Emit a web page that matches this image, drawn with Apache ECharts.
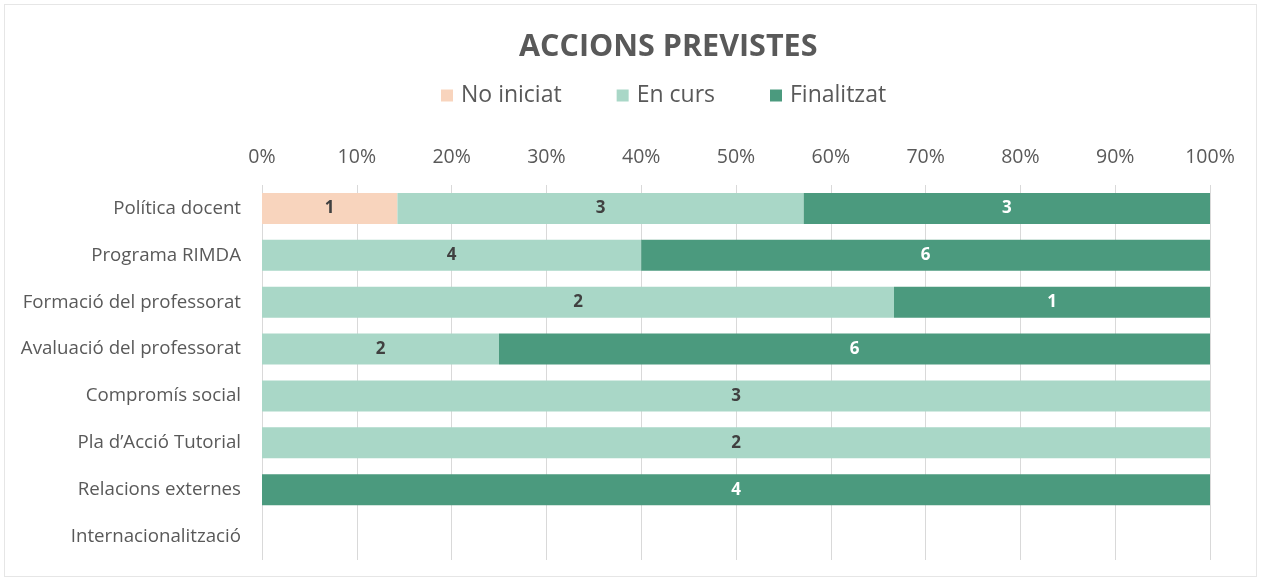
<!DOCTYPE html>
<html><head><meta charset="utf-8">
<script src="https://cdn.jsdelivr.net/npm/echarts@6/dist/echarts.min.js"></script>
<style>html,body{margin:0;padding:0;background:#fff}#c{width:1263px;height:583px}</style>
</head><body><div id="c"></div>
<script>
const categories = ["Política docent","Programa RIMDA","Formació del professorat","Avaluació del professorat","Compromís social","Pla d’Acció Tutorial","Relacions externes","Internacionalització"];
const noIniciat = [1,0,0,0,0,0,0,0];
const enCurs = [3,4,2,2,3,2,0,0];
const finalitzat = [3,6,1,6,0,0,4,0];
const tickLabels = ["0%","10%","20%","30%","40%","50%","60%","70%","80%","90%","100%"];

const totals = categories.map((_, i) => noIniciat[i] + enCurs[i] + finalitzat[i]);
const pct = arr => arr.map((v, i) => totals[i] ? v / totals[i] * 100 : 0);
const font = '"Open Sans", Lato, sans-serif';

function mk(name, arr, color, labelColor) {
  return {
    name, type: 'bar', stack: 'all', data: pct(arr),
    barCategoryGap: '34%',
    itemStyle: { color },
    label: {
      show: true, position: 'inside', color: labelColor, fontWeight: 'bold',
      fontFamily: font, fontSize: 17,
      formatter: p => arr[p.dataIndex] ? String(arr[p.dataIndex]) : ''
    }
  };
}

const chart = echarts.init(document.getElementById('c'));
chart.setOption({
  animation: false,
  backgroundColor: '#fff',
  title: {
    text: 'ACCIONS PREVISTES', left: 514, top: 27,
    textStyle: { fontFamily: font, fontSize: 30.5, fontWeight: 'bold', color: '#595959' }
  },
  legend: {
    top: 79, left: 436, itemWidth: 12, itemHeight: 12, itemGap: 55,
    icon: 'rect',
    textStyle: { fontFamily: font, fontSize: 23, color: '#595959', padding: [0, 0, 0, 3] },
    data: ['No iniciat', 'En curs', 'Finalitzat']
  },
  grid: { left: 262, right: 53, top: 185, bottom: 23, containLabel: false },
  xAxis: {
    type: 'value', position: 'top', min: 0, max: 100, interval: 10,
    axisLine: { show: false }, axisTick: { show: false },
    splitLine: { lineStyle: { color: '#d9d9d9' } },
    axisLabel: {
      fontFamily: font, fontSize: 19.5, color: '#595959', margin: 18,
      formatter: (v) => tickLabels[Math.round(v / 10)]
    }
  },
  yAxis: {
    type: 'category', inverse: true, data: categories,
    axisLine: { show: false }, axisTick: { show: false },
    axisLabel: { fontFamily: font, fontSize: 18.7, color: '#595959', margin: 21 }
  },
  series: [
    mk('No iniciat', noIniciat, '#f8d4bd', '#404040'),
    mk('En curs', enCurs, '#a9d7c7', '#404040'),
    mk('Finalitzat', finalitzat, '#4b9a7e', '#ffffff')
  ]
});
</script>
<div style="position:absolute;left:4px;top:4px;width:1253px;height:573px;border:1px solid #e6e6e6;pointer-events:none;box-sizing:border-box"></div>
</body></html>
